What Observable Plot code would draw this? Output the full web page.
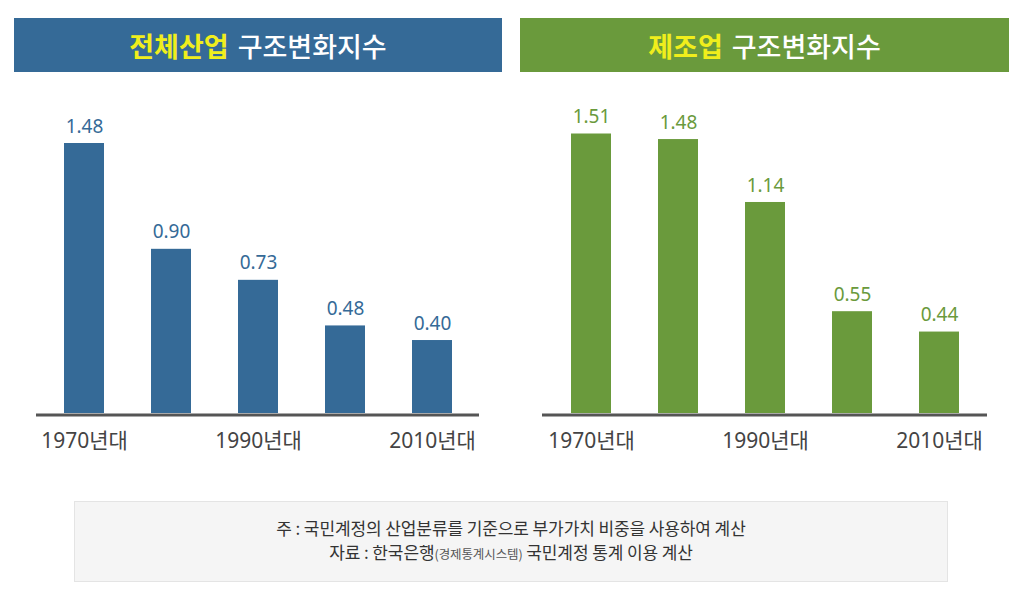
<!DOCTYPE html>
<html>
<head>
<meta charset="utf-8">
<script src="https://cdn.jsdelivr.net/npm/d3@7"></script>
<script src="https://cdn.jsdelivr.net/npm/@observablehq/plot@0.6"></script>
<style>
  body { margin: 0; background: #fff; }
  #root { position: relative; width: 1024px; height: 599px; overflow: hidden; background: #fff;
          font-family: 'Noto Sans', 'Noto Sans CJK KR', sans-serif; }
  .titlebar { position: absolute; top: 18px; height: 54px; display: flex; align-items: center; justify-content: center;
              font-family: 'Noto Sans CJK KR', sans-serif; font-size: 27px; color: #fff; font-weight: 500; letter-spacing: 0px; }
  .titlebar .hl { color: #f0ee1c; font-weight: 700; margin-right: 9px; }
  .plotwrap { position: absolute; top: 80px; }
  #note { position: absolute; left: 74px; top: 501px; width: 872px; background: #f5f5f5; border: 1px solid #e4e4e4;
          box-sizing: content-box; text-align: center; padding-top: 14px; height: 65px;
          font-family: 'Noto Sans CJK KR', sans-serif; font-size: 17px; line-height: 24px; color: #333; letter-spacing: -0.1px; }
  #note .small { font-size: 12.5px; color: #555; }
</style>
</head>
<body>
<div id="root">
  <div class="titlebar" style="left:14px;width:488px;background:#356a97;"><span class="hl">전체산업</span>구조변화지수</div>
  <div class="titlebar" style="left:520px;width:489px;background:#6a9a3c;"><span class="hl">제조업</span>구조변화지수</div>
  <div class="plotwrap" id="left" style="left:14px;"></div>
  <div class="plotwrap" id="right" style="left:520px;"></div>
  <div id="note">주 : 국민계정의 산업분류를 기준으로 부가가치 비중을 사용하여 계산<br>자료 : 한국은행<span class="small">(경제통계시스템)</span> 국민계정 통계 이용 계산</div>
</div>
<script>
const decades = ["1970년대", "1980년대", "1990년대", "2000년대", "2010년대"];
const allIndustry = [1.48, 0.90, 0.73, 0.48, 0.40];
const manufacturing = [1.51, 1.48, 1.14, 0.55, 0.44];
const tickLabels = ["1970년대", "1990년대", "2010년대"];

const fontStack = "'Noto Sans', 'Noto Sans CJK KR', sans-serif";
const fmt = d3.format(".2f");

function makeChart(values, color, width, xRange, yMax, yTop) {
  const data = decades.map((d, i) => ({decade: d, value: values[i]}));
  return Plot.plot({
    width: width,
    height: 380,
    marginLeft: 22,
    marginRight: 23,
    marginTop: 0,
    marginBottom: 47,
    style: {fontFamily: fontStack, fontSize: "21px", color: "#444", background: "transparent", overflow: "visible"},
    x: {type: "band", domain: decades, range: xRange, paddingInner: 0.54, paddingOuter: 0.27, axis: null},
    y: {domain: [0, yMax], range: [333, yTop], axis: null},
    marks: [
      Plot.barY(data, {x: "decade", y: "value", fill: color}),
      Plot.ruleY([0], {stroke: "#555", strokeWidth: 3, dy: 1.5}),
      Plot.text(data, {x: "decade", y: "value", text: d => fmt(d.value), fill: color, fontSize: 19,
                       fontFamily: fontStack, dy: -17}),
      Plot.axisX({ticks: tickLabels, tickSize: 0, tickPadding: 20, fontSize: 21, fill: "#444", fontFamily: fontStack,
                  letterSpacing: -0.5, label: null})
    ]
  });
}

document.getElementById("left").append(makeChart(allIndustry, "#356a97", 488, [25.25, 462.75], 1.48, 63));
document.getElementById("right").append(makeChart(manufacturing, "#6a9a3c", 490, [26.8, 463.8], 1.51, 53.5));
</script>
</body>
</html>
